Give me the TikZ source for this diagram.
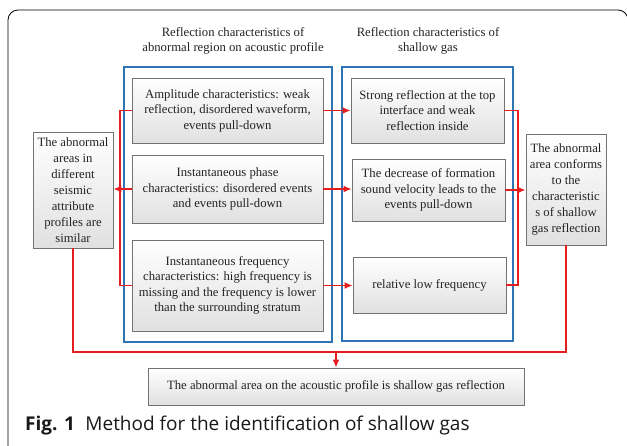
\documentclass[tikz,border=0pt]{standalone}
\usepackage{fontspec}
\setmainfont{Liberation Serif}
\newfontfamily\capfont{Open Sans}
\usetikzlibrary{arrows.meta,shadows}
\definecolor{myred}{RGB}{228,30,30}
\definecolor{myblue}{RGB}{46,117,182}
\definecolor{txt}{RGB}{35,35,35}
\tikzset{
  gbox/.style={draw=black!55, line width=0.9pt, top color=white, bottom color=black!12,
    align=center, text=txt, inner sep=2pt,
    font=\fontsize{12.7}{15.5}\selectfont,
    drop shadow={shadow xshift=1.2pt, shadow yshift=-1.2pt, opacity=0.2}},
  bluebox/.style={draw=myblue, line width=1.2pt},
  redline/.style={draw=myred, line width=1.4pt},
  redarrow/.style={draw=myred, line width=1.4pt, -{Latex[length=8pt,width=7pt]}},
  ttl/.style={align=center, text=txt, font=\fontsize{12.7}{15.5}\selectfont},
}
\begin{document}
\begin{tikzpicture}[x=1pt,y=-1pt]
\useasboundingbox (0,0) rectangle (627,446);
\clip (0,0) rectangle (627,446);
\fill[white] (0,0) rectangle (627,446);
\draw[line width=0.8pt, rounded corners=10pt] (8,470) -- (8,10) -- (628,10) -- (628,470);

\node[ttl] (t1) at (233,41) {Reflection characteristics of\\abnormal region on acoustic profile};
\node[ttl] (t2) at (428,41) {Reflection characteristics of\\shallow gas};

\draw[bluebox] (124,67) rectangle (332,342);
\draw[bluebox] (342,67) rectangle (513,341);

\node[gbox, minimum width=191pt, minimum height=65pt] (a1) at (227.5,110.5)
  {Amplitude characteristics: weak\\reflection, disordered waveform,\\events pull-down};
\node[gbox, minimum width=191pt, minimum height=68pt] (a2) at (227.5,189)
  {Instantaneous phase\\characteristics: disordered events\\and events pull-down};
\node[gbox, minimum width=191pt, minimum height=91pt] (a3) at (227.5,285.5)
  {Instantaneous frequency\\characteristics: high frequency is\\missing and the frequency is lower\\than the surrounding stratum};
\node[gbox, minimum width=153pt, minimum height=65pt] (b1) at (427.5,110.5)
  {Strong reflection at the top\\interface and weak\\reflection inside};
\node[gbox, minimum width=153pt, minimum height=62pt] (b2) at (428.5,190)
  {The decrease of formation\\sound velocity leads to the\\events pull-down};
\node[gbox, minimum width=153pt, minimum height=56pt] (b3) at (429.5,285)
  {relative low frequency};
\node[gbox, minimum width=80pt, minimum height=116pt, font=\fontsize{12.7}{16}\selectfont] (l) at (73,190)
  {The abnormal\\areas in\\different\\seismic\\attribute\\profiles are\\similar};
\node[gbox, minimum width=80pt, minimum height=111pt, font=\fontsize{12.7}{16}\selectfont] (r) at (566,189.5)
  {The abnormal\\area conforms\\to the\\characteristic\\s of shallow\\gas reflection};
\node[gbox, minimum width=376pt, minimum height=37pt] (bot) at (336,386.5)
  {The abnormal area on the acoustic profile is shallow gas reflection};

\coordinate (jl) at (120,0);
\coordinate (jr) at (518,0);
\coordinate (busy) at (336,352);

\draw[redline] (a1.west) -| (jl |- a3.west) -- (a3.west);
\draw[redarrow] (a2.west) -- (l.east |- a2.west);
\draw[redarrow] (a1.east) -- (b1.west |- a1.east);
\draw[redarrow] (a2.east) -- (b2.west |- a2.east);
\draw[redarrow] (a3.east) -- (b3.west |- a3.east);
\draw[redline] (b1.east) -| (jr |- b3.east) -- (b3.east);
\draw[redarrow] (b2.east) -- (r.west |- b2.east);
\draw[redline] (l.south) |- (busy) -| (r.south);
\draw[redarrow] (busy) -- (bot.north);

\node[anchor=base west, inner sep=0pt, text=black!90, font=\capfont\fontsize{19}{22}\selectfont] (cap) at (25,431)
  {\textbf{Fig. 1}\hspace{0.55em}Method for the identification of shallow gas};
\end{tikzpicture}
\end{document}
